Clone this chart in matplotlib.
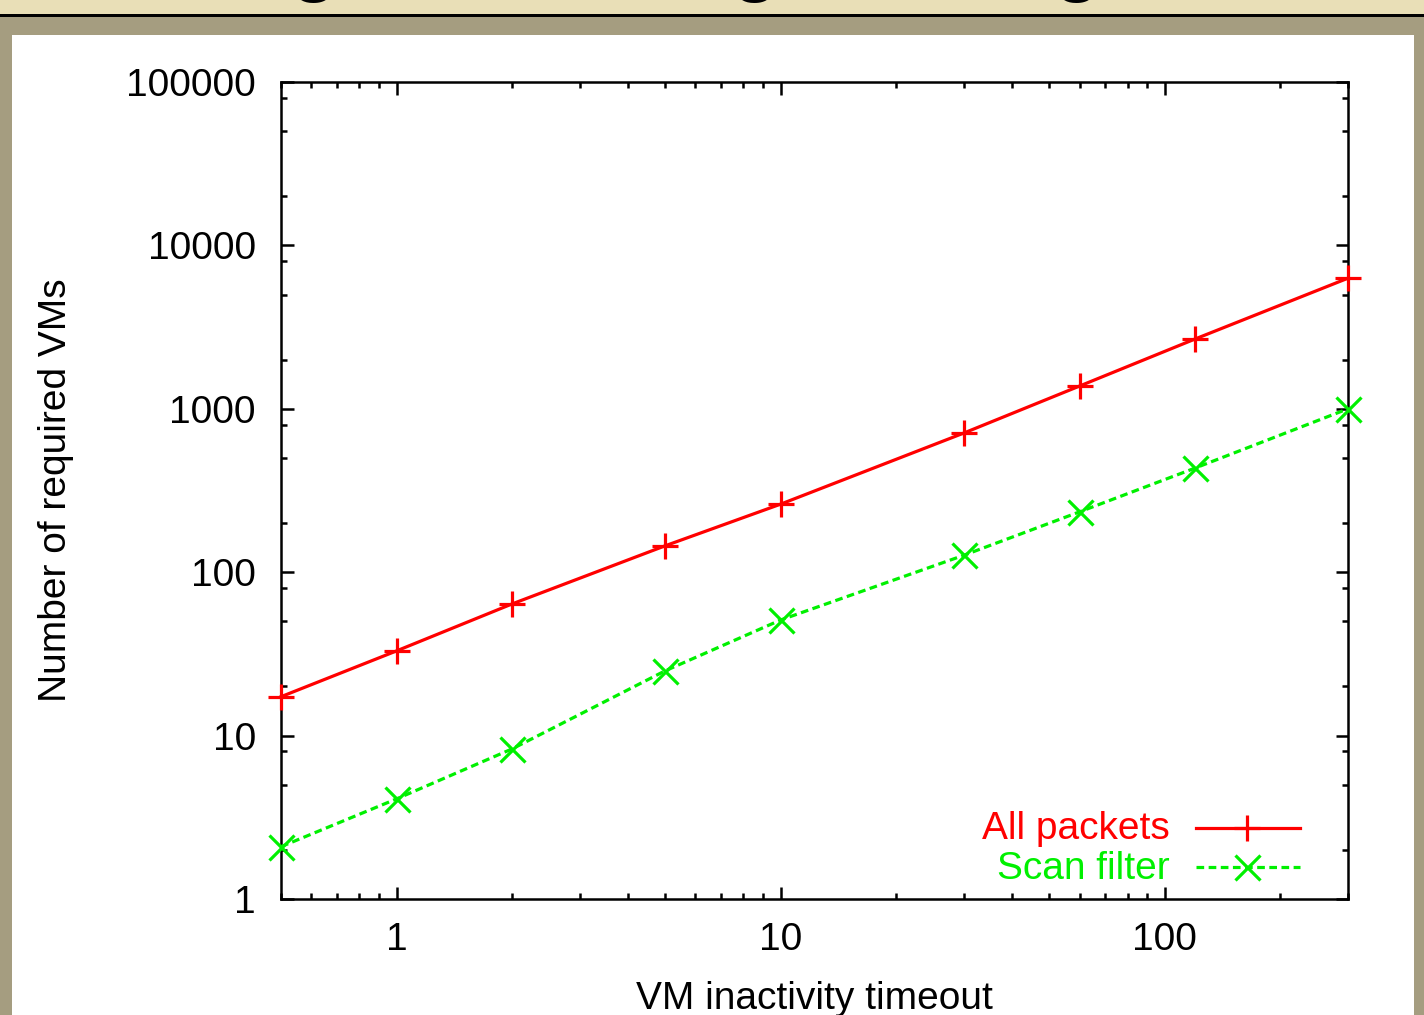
import matplotlib
matplotlib.use("Agg")
import matplotlib.pyplot as plt
from matplotlib.patches import Rectangle
from matplotlib.ticker import LogLocator, FixedLocator, FixedFormatter, NullFormatter

plt.rcParams['font.family'] = ['Liberation Sans', 'DejaVu Sans']

# ---- data ----
timeouts = [0.5, 1, 2, 5, 10, 30, 60, 120, 300]
all_packets = [17.3, 33, 64, 145, 261, 711, 1378, 2675, 6300]
scan_filter = [2.09, 4.1, 8.3, 24.9, 51, 127, 234, 434, 1000]
series_labels = ["All packets", "Scan filter"]
x_ticks = [1, 10, 100]
x_ticklabels = ["1", "10", "100"]
y_ticks = [1, 10, 100, 1000, 10000, 100000]
y_ticklabels = ["1", "10", "100", "1000", "10000", "100000"]
x_label = "VM inactivity timeout"
y_label = "Number of required VMs"

W, H = 1424, 1015
FS = 28
fig = plt.figure(figsize=(W / 100, H / 100), dpi=100)
fig.patch.set_facecolor('#A59D80')

# slide decoration
fig.add_artist(Rectangle((0, 1 - 14.5 / H), 1, 14.5 / H, transform=fig.transFigure,
                         facecolor='#E9DFB7', edgecolor='none', zorder=0))
fig.add_artist(Rectangle((0, 1 - 17 / H), 1, 2.5 / H, transform=fig.transFigure,
                         facecolor='black', edgecolor='none', zorder=0))
fig.add_artist(Rectangle((12 / W, 0), (1414 - 12) / W, (H - 35) / H, transform=fig.transFigure,
                         facecolor='white', edgecolor='none', zorder=0))
# cut-off slide title (only descenders visible)
for txt, xp in [("g,", 311), ("g", 752), ("g", 1074)]:
    fig.text((xp - 20) / W, 1 + 13 / H, txt, fontsize=55, fontweight='bold',
             ha='left', va='baseline', color='black', zorder=1)

ax = fig.add_axes([281 / W, 116 / H, (1348 - 281) / W, (899 - 82) / H])
ax.set_facecolor('white')
ax.set_xscale('log')
ax.set_yscale('log')
ax.set_xlim(0.5, 300)
ax.set_ylim(1, 100000)

red = '#FF0000'
green = '#00F000'
dash = (0, (2.4, 1.4))
ax.plot(timeouts, all_packets, color=red, lw=2.3, marker='+', ms=19, mew=2.3,
        clip_on=False, zorder=3)
ax.plot(timeouts, scan_filter, color=green, lw=2.3, ls=dash, marker='x',
        ms=18, mew=2.3, clip_on=False, zorder=3)

for s in ax.spines.values():
    s.set_linewidth(1.8)

ax.xaxis.set_major_locator(FixedLocator(x_ticks))
ax.xaxis.set_major_formatter(FixedFormatter(x_ticklabels))
ax.xaxis.set_minor_locator(LogLocator(base=10, subs=[2, 3, 4, 5, 6, 7, 8, 9], numticks=20))
ax.xaxis.set_minor_formatter(NullFormatter())
ax.yaxis.set_major_locator(FixedLocator(y_ticks))
ax.yaxis.set_major_formatter(FixedFormatter(y_ticklabels))
ax.yaxis.set_minor_locator(LogLocator(base=10, subs=[2, 5, 8], numticks=20))
ax.yaxis.set_minor_formatter(NullFormatter())

ax.tick_params(which='both', direction='in', top=True, right=True, width=1.8, colors='black')
ax.tick_params(which='major', length=9, labelsize=FS)
ax.tick_params(which='minor', length=4.5)
ax.tick_params(axis='y', which='major', pad=18)
ax.tick_params(axis='x', which='major', pad=16.5)

ax.set_xlabel(x_label, fontsize=FS, va='top')
ax.xaxis.set_label_coords(0.5, -0.1)
ax.set_ylabel(y_label, fontsize=FS)
ax.yaxis.set_label_coords(-0.194, 0.5)

# legend (gnuplot style: text right-aligned, sample to the right)
leg_rows = [(series_labels[0], red, '-', '+', 19, 0.0734, 0.0869),
            (series_labels[1], green, dash, 'x', 18, 0.0245, 0.0392)]
for lab, col, ls, mk, ms, ty, ly in leg_rows:
    ax.text(0.833, ty, lab, transform=ax.transAxes, ha='right', va='baseline',
            fontsize=FS, color=col)
    ax.plot([0.8575, 0.955], [ly, ly], transform=ax.transAxes, color=col, lw=2.3, ls=ls,
            clip_on=False)
    ax.plot([0.905], [ly], transform=ax.transAxes, color=col, marker=mk, ms=ms, mew=2.3,
            clip_on=False)

fig.savefig('out.png', dpi=100, facecolor=fig.get_facecolor())
